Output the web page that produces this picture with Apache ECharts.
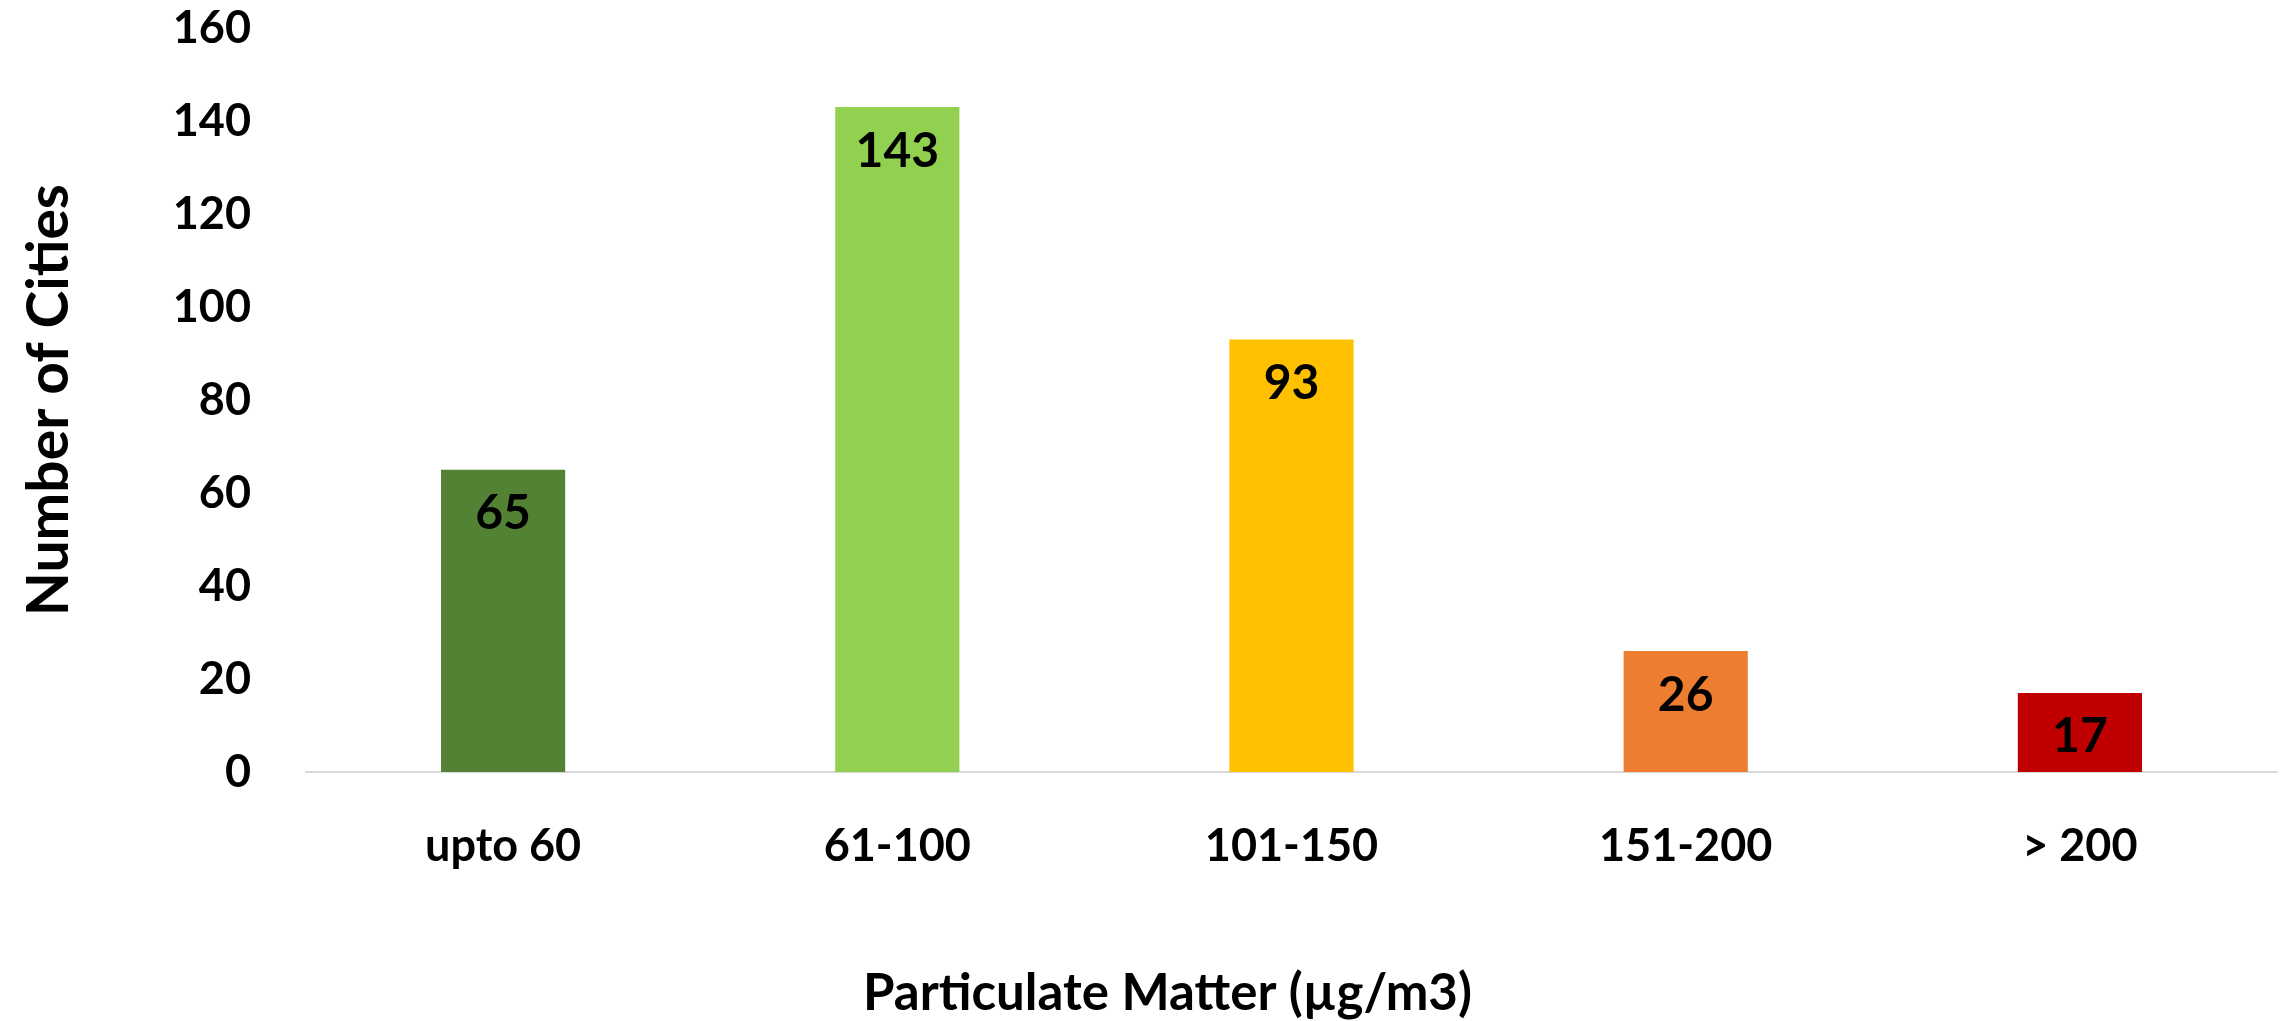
<!DOCTYPE html>
<html>
<head>
<meta charset="utf-8">
<script src="https://cdn.jsdelivr.net/npm/echarts@6/dist/echarts.min.js"></script>
<style>
  html, body { margin: 0; padding: 0; background: #fff; }
  #chart { width: 2287px; height: 1021px; }
</style>
</head>
<body>
<div id="chart"></div>
<script>
const categories = ["upto 60", "61-100", "101-150", "151-200", "> 200"];
const cityCounts = [65, 143, 93, 26, 17];
const barColors = ["#548235", "#92D050", "#FFC000", "#ED7D31", "#C00000"];
const yTicks = [0, 20, 40, 60, 80, 100, 120, 140, 160];

const font = "Lato";
const chart = echarts.init(document.getElementById("chart"));

const option = {
  animation: false,
  title: {
    text: "Particulate Matter (µg/m3)",
    left: 858,
    top: 963,
    textStyle: { fontFamily: font, fontWeight: "bold", fontSize: 51, color: "#000" },
  },
  grid: { left: 306, right: 10, top: 28, bottom: 249 },
  xAxis: {
    type: "category",
    data: categories,
    axisLine: { lineStyle: { color: "#d9d9d9", width: 2 } },
    axisTick: { show: false },
    axisLabel: {
      margin: 52,
      color: "#000",
      fontFamily: font,
      fontWeight: "bold",
      fontSize: 45,
    },
  },
  yAxis: {
    type: "value",
    min: yTicks[0],
    max: yTicks[yTicks.length - 1],
    interval: 20,
    name: "Number of Cities",
    nameLocation: "middle",
    nameGap: 228,
    nameTextStyle: { fontFamily: font, fontWeight: "bold", fontSize: 57, color: "#000" },
    splitLine: { show: false },
    axisLine: { show: false },
    axisTick: { show: false },
    axisLabel: {
      margin: 55,
      color: "#000",
      fontFamily: font,
      fontWeight: "bold",
      fontSize: 45,
    },
  },
  series: [
    {
      type: "bar",
      barWidth: "31.5%",
      data: cityCounts.map((v, i) => ({ value: v, itemStyle: { color: barColors[i] } })),
      label: {
        show: true,
        position: "insideTop",
        distance: 20,
        color: "#000",
        fontFamily: font,
        fontWeight: "bold",
        fontSize: 48,
      },
    },
  ],
};

chart.setOption(option);
window.addEventListener("resize", () => chart.resize());
</script>
</body>
</html>
